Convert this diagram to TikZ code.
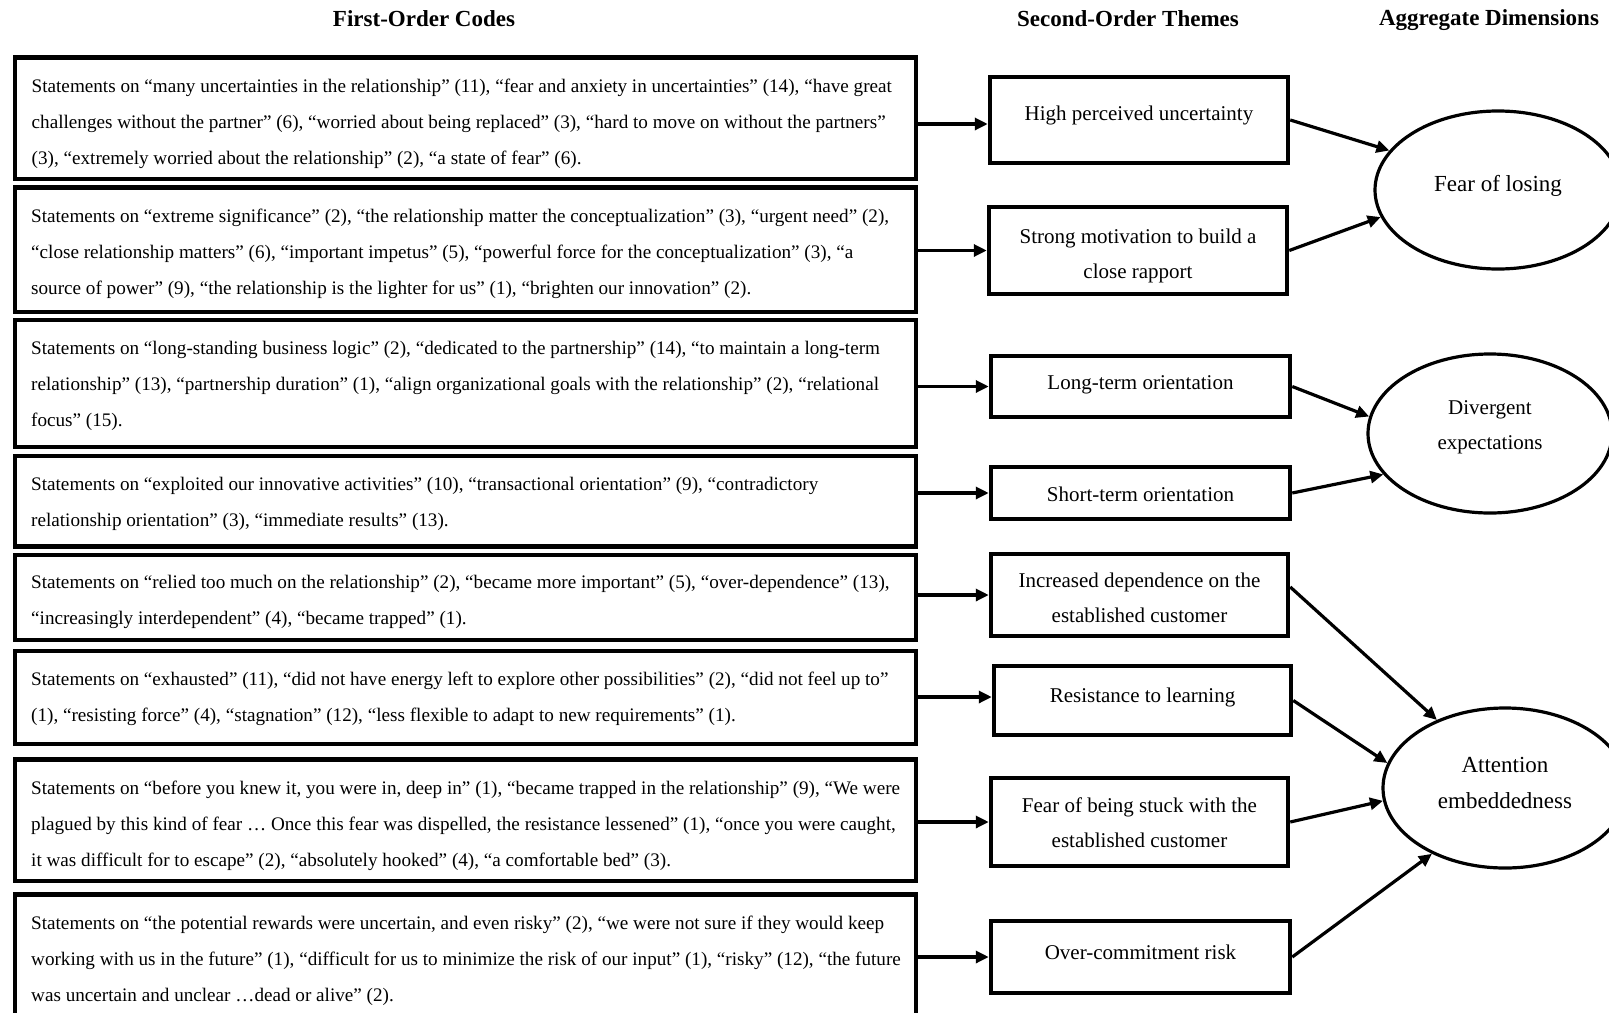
\documentclass[tikz,border=0pt]{standalone}
\usepackage{fontspec}
\setmainfont{Liberation Serif}
\usetikzlibrary{arrows.meta,shapes.geometric,calc}

\begin{document}
\begin{tikzpicture}[x=1pt,y=-1pt,
  codebox/.style={draw, line width=4.5pt, minimum width=901pt, inner sep=0pt},
  themebox/.style={draw, line width=4.5pt, inner sep=0pt},
  dimell/.style={draw, ellipse, line width=3.2pt, inner sep=0pt},
  ctext/.style={anchor=west, align=left, inner sep=0pt, font=\fontsize{19.15}{36}\selectfont},
  ttext/.style={align=center, inner sep=0pt, font=\fontsize{21}{35}\selectfont},
  etext/.style={align=center, inner sep=0pt, font=\fontsize{23}{36}\selectfont},
  hdr/.style={inner sep=0pt, font=\fontsize{23}{28}\selectfont\bfseries},
  arr/.style={line width=3.2pt, -{Triangle[length=13pt,width=12pt]}}
]
\useasboundingbox (0,0) rectangle (1609,1012);
\clip (0,0) rectangle (1609,1012);

% headers
\node[hdr] (h1) at (424,18.5) {First-Order Codes};
\node[hdr] (h2) at (1128,18.5) {Second-Order Themes};
\node[hdr] (h3) at (1489,20.5) {Aggregate Dimensions};

% first-order code boxes
\node[codebox, minimum height=121.5pt] (c1) at (465.5,118.25) {};
\node[codebox, minimum height=124.5pt] (c2) at (465.5,249.75) {};
\node[codebox, minimum height=127pt] (c3) at (465.5,383.5) {};
\node[codebox, minimum height=90.5pt] (c4) at (465.5,501.25) {};
\node[codebox, minimum height=85pt] (c5) at (465.5,597.5) {};
\node[codebox, minimum height=93pt] (c6) at (465.5,697.5) {};
\node[codebox, minimum height=121.5pt] (c7) at (465.5,820.25) {};
\node[codebox, minimum height=130pt] (c8) at (465.5,959.5) {};

\node[ctext] (c1t) at (31.5,124) {Statements on “many uncertainties in the relationship” (11), “fear and anxiety in uncertainties” (14), “have great\\
challenges without the partner” (6), “worried about being replaced” (3), “hard to move on without the partners”\\
(3), “extremely worried about the relationship” (2), “a state of fear” (6).};

\node[ctext] (c2t) at (31,254) {Statements on “extreme significance” (2), “the relationship matter the conceptualization” (3), “urgent need” (2),\\
“close relationship matters” (6), “important impetus” (5), “powerful force for the conceptualization” (3), “a\\
source of power” (9), “the relationship is the lighter for us” (1), “brighten our innovation” (2).};

\node[ctext] (c3t) at (31,385.5) {Statements on “long-standing business logic” (2), “dedicated to the partnership” (14), “to maintain a long-term\\
relationship” (13), “partnership duration” (1), “align organizational goals with the relationship” (2), “relational\\
focus” (15).};

\node[ctext] (c4t) at (31,503.5) {Statements on “exploited our innovative activities” (10), “transactional orientation” (9), “contradictory\\
relationship orientation” (3), “immediate results” (13).};

\node[ctext] (c5t) at (31,602) {Statements on “relied too much on the relationship” (2), “became more important” (5), “over-dependence” (13),\\
“increasingly interdependent” (4), “became trapped” (1).};

\node[ctext] (c6t) at (31,699) {Statements on “exhausted” (11), “did not have energy left to explore other possibilities” (2), “did not feel up to”\\
(1), “resisting force” (4), “stagnation” (12), “less flexible to adapt to new requirements” (1).};

\node[ctext] (c7t) at (31,825.5) {Statements on “before you knew it, you were in, deep in” (1), “became trapped in the relationship” (9), “We were\\
plagued by this kind of fear … Once this fear was dispelled, the resistance lessened” (1), “once you were caught,\\
it was difficult for to escape” (2), “absolutely hooked” (4), “a comfortable bed” (3).};

\node[ctext] (c8t) at (31,961) {Statements on “the potential rewards were uncertain, and even risky” (2), “we were not sure if they would keep\\
working with us in the future” (1), “difficult for us to minimize the risk of our input” (1), “risky” (12), “the future\\
was uncertain and unclear …dead or alive” (2).};

% second-order theme boxes
\node[themebox, minimum width=298pt, minimum height=86pt] (t1) at (1139,120) {};
\node[themebox, minimum width=298pt, minimum height=87pt] (t2) at (1138,250.5) {};
\node[themebox, minimum width=299pt, minimum height=61pt] (t3) at (1140.5,386.5) {};
\node[themebox, minimum width=299pt, minimum height=52pt] (t4) at (1140.5,493) {};
\node[themebox, minimum width=297pt, minimum height=82pt] (t5) at (1139.5,595) {};
\node[themebox, minimum width=297pt, minimum height=69pt] (t6) at (1142.5,700.5) {};
\node[themebox, minimum width=297pt, minimum height=88pt] (t7) at (1139.5,822) {};
\node[themebox, minimum width=299pt, minimum height=72pt] (t8) at (1140.5,957) {};

\node[ttext] (t1t) at (1139,115) {High perceived uncertainty};
\node[ttext] (t2t) at (1138,256) {Strong motivation to build a\\close rapport};
\node[ttext] (t3t) at (1140.5,384.5) {Long-term orientation};
\node[ttext] (t4t) at (1140.5,494.5) {Short-term orientation};
\node[ttext] (t5t) at (1139.5,597.5) {Increased dependence on the\\established customer};
\node[ttext] (t6t) at (1142.5,697) {Resistance to learning};
\node[ttext] (t7t) at (1139.5,822.5) {Fear of being stuck with the\\established customer};
\node[ttext] (t8t) at (1140.5,952.5) {Over-commitment risk};

% aggregate dimensions
\node[dimell, minimum width=246pt, minimum height=158pt] (f1) at (1498,190) {};
\node[dimell, minimum width=244pt, minimum height=159pt] (f2) at (1490,433.5) {};
\node[dimell, minimum width=244pt, minimum height=160pt] (f3) at (1505,788) {};

\node[etext] (f1t) at (1498,186) {Fear of losing};
\node[etext, font=\fontsize{21}{35}\selectfont] (f2t) at (1490,427) {Divergent\\expectations};
\node[etext] (f3t) at (1505,782.5) {Attention\\embeddedness};

% arrows: codes -> themes
\draw[arr] ([yshift=-4pt]t1.west -| c1.east) -- ([yshift=-4pt]t1.west);
\foreach \i in {2,3,4,5,7,8}{
  \draw[arr] (t\i.west -| c\i.east) -- (t\i.west);
}
\draw[arr] ([yshift=3.5pt]t6.west -| c6.east) -- ([yshift=3.5pt]t6.west);

% arrows: themes -> dimensions
\draw[arr] (t1.east) -- (f1.160);
\draw[arr] (t2.east) -- (f1.193);
\draw[arr] (t3.east) -- (f2.172);
\draw[arr] (t4.east) -- (f2.201);
\draw[arr] ([yshift=8pt]t5.east) -- (f3.135);
\draw[arr] (t6.east) -- (f3.168);
\draw[arr] (t7.east) -- (f3.186);
\draw[arr] (t8.east) -- (f3.222);
\end{tikzpicture}
\end{document}
